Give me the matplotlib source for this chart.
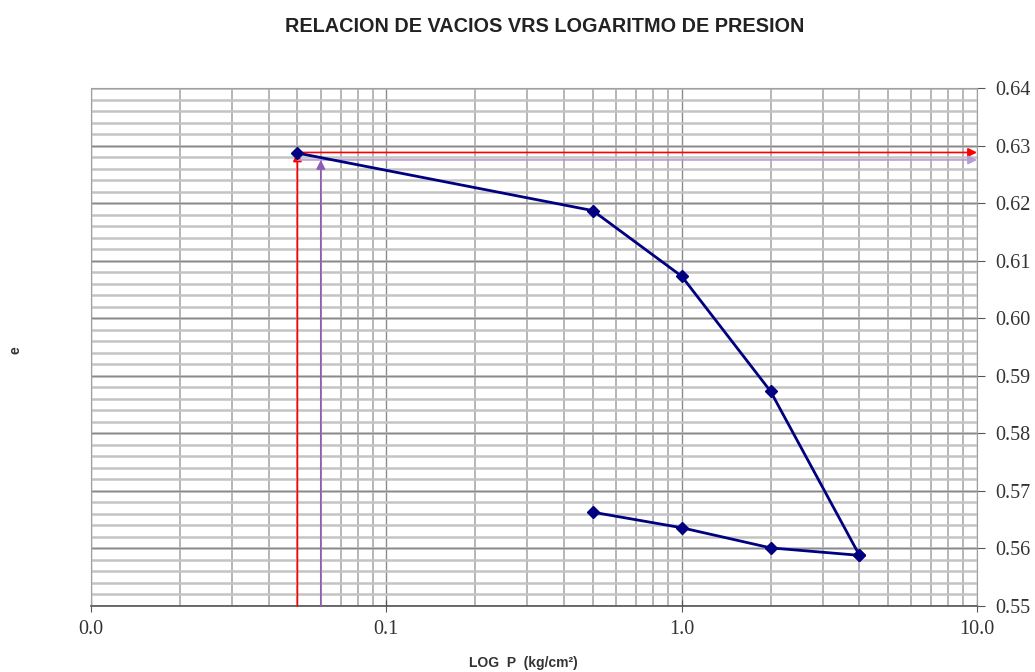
import matplotlib
matplotlib.use("Agg")
import matplotlib.pyplot as plt
import numpy as np
from matplotlib.ticker import FixedLocator, FixedFormatter

# datos de consolidacion
p_carga = [0.05, 0.5, 1.0, 2.0, 4.0]
e_carga = [0.6287, 0.6187, 0.6073, 0.5873, 0.5588]
p_descarga = [4.0, 2.0, 1.0, 0.5]
e_descarga = [0.5588, 0.5601, 0.5636, 0.5663]

# lineas auxiliares (pc)
p_rojo = 0.05
e_rojo = 0.6288
p_morado = 0.06
e_morado = 0.6275

x_ticks = [0.01, 0.1, 1.0, 10.0]
x_labels = ["0.0", "0.1", "1.0", "10.0"]
y_ticks = [0.55, 0.56, 0.57, 0.58, 0.59, 0.60, 0.61, 0.62, 0.63, 0.64]

fig = plt.figure(figsize=(10.35, 6.72), dpi=100)
ax = fig.add_axes([91/1035, 1 - 606/672, (977-91)/1035, (606-88)/672])
ax.set_xscale("log")
ax.set_xlim(0.01, 10)
ax.set_ylim(0.55, 0.64)

# rejilla
minor_x = [m * 10.0**d for d in (-2, -1, 0) for m in range(2, 10)]
for xv in minor_x:
    ax.axvline(xv, color="#b0b0b0", lw=1.3, zorder=0)
for xv in x_ticks:
    ax.axvline(xv, color="#8a8a8a", lw=1.0, zorder=0)
for yv in np.arange(0.55, 0.6401, 0.002):
    ax.axhline(yv, color="#c4c4c4", lw=1.8, zorder=0)
for yv in y_ticks:
    ax.axhline(yv, color="#8a8a8a", lw=1.0, zorder=0)

ax.plot(p_carga, e_carga, color="#000080", lw=2, marker="D", ms=6, zorder=5)
ax.plot(p_descarga, e_descarga, color="#000080", lw=2, marker="D", ms=6, zorder=5)

# flechas
arr = dict(arrowstyle="-|>", lw=1.2, mutation_scale=13, shrinkA=0, shrinkB=0)
ax.annotate("", xy=(p_rojo, e_rojo), xytext=(p_rojo, 0.55),
            arrowprops=dict(arr, color="red"), zorder=4)
ax.annotate("", xy=(10, e_rojo), xytext=(p_rojo, e_rojo),
            arrowprops=dict(arr, color="red"), zorder=4)
ax.annotate("", xy=(p_morado, e_morado), xytext=(p_morado, 0.55),
            arrowprops=dict(arr, color="#8e5bb5"), zorder=4)
ax.annotate("", xy=(10, e_morado), xytext=(p_rojo, e_morado),
            arrowprops=dict(arr, color="#b79bd6"), zorder=4)

ax.xaxis.set_major_locator(FixedLocator(x_ticks))
ax.xaxis.set_major_formatter(FixedFormatter(x_labels))
ax.xaxis.set_minor_locator(FixedLocator([]))
ax.yaxis.tick_right()
ax.set_yticks(y_ticks)
ax.set_yticklabels([f"{v:.2f}" for v in y_ticks])
ax.tick_params(axis="x", direction="inout", length=8, color="#555555", labelsize=14.5,
               labelcolor="#333333", pad=6)
ax.tick_params(axis="y", direction="out", length=6, color="#555555", labelsize=14.5,
               labelcolor="#333333", pad=7)
for lab in ax.get_xticklabels() + ax.get_yticklabels():
    lab.set_fontfamily("Liberation Serif")

for s in ["top", "left", "right"]:
    ax.spines[s].set_color("#a0a0a0")
ax.spines["bottom"].set_color("#555555")
ax.spines["bottom"].set_linewidth(1.2)

fig.text(545/1035, 1 - 27/672, "RELACION DE VACIOS VRS LOGARITMO DE PRESION",
         ha="center", va="center", fontsize=14.3, fontweight="bold",
         family="Liberation Sans", color="#222222")
fig.text(523/1035, 1 - 663/672, "LOG  P  (kg/cm²)",
         ha="center", va="center", fontsize=10, fontweight="bold",
         family="Liberation Sans", color="#333333")
fig.text(15/1035, 1 - 350/672, "e", ha="center", va="center", fontsize=10,
         fontweight="bold", rotation=90, family="Liberation Sans", color="#333333")

fig.savefig("out.png", dpi=100)
